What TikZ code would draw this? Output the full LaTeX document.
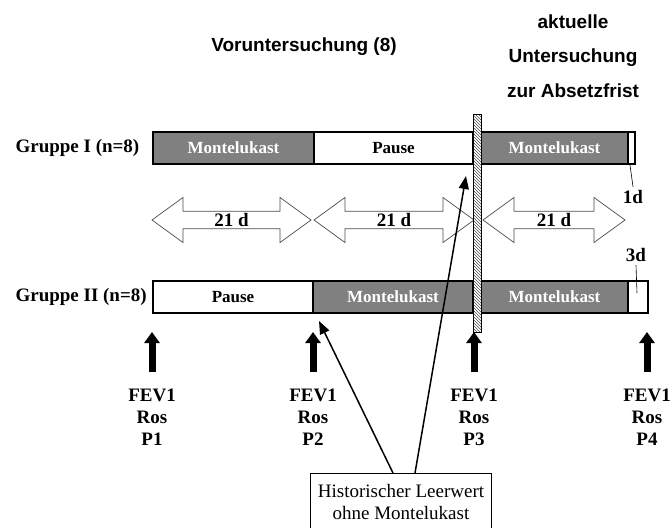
\documentclass[tikz,border=0pt]{standalone}
\usepackage{fontspec}
\setmainfont{Liberation Serif}
\newfontfamily\headfont{Liberation Sans}
\usetikzlibrary{shapes.arrows,arrows.meta,patterns}
\definecolor{barfill}{RGB}{128,128,128}
\tikzset{
  seg/.style={draw, line width=1.2pt, minimum height=32pt, inner sep=0pt,
    font=\bfseries\fontsize{17}{17}\selectfont},
  drug/.style={seg, fill=barfill, text=white},
  pause/.style={seg, fill=white},
  period/.style={double arrow, draw=black!70, line width=0.7pt, fill=white,
    minimum width=45pt, double arrow head extend=11pt, double arrow tip angle=72,
    inner sep=0pt, font=\bfseries\fontsize{19}{19}\selectfont},
  group/.style={anchor=west, font=\bfseries\fontsize{19}{19}\selectfont},
  head/.style={font=\headfont\bfseries\fontsize{19}{34.5}\selectfont, align=center},
  meas/.style={align=center, font=\bfseries\fontsize{19}{22}\selectfont},
  up/.style={line width=7pt, -{Triangle[length=11pt,width=15pt]}},
  hint/.style={line width=1.5pt, -{Triangle[length=13pt,width=10pt]}},
  lead/.style={line width=0.6pt},
}
\begin{document}
\begin{tikzpicture}[x=1pt,y=-1pt]
  \useasboundingbox (0,0) rectangle (671,527);
  \node[head] (vor) at (304,47) {Voruntersuchung (8)};
  \node[head] (akt) at (573,56) {aktuelle\\Untersuchung\\zur Absetzfrist};

  \node[group] (g1) at (12,148) {Gruppe I (n=8)};
  \node[group] (g2) at (12,297) {Gruppe II (n=8)};

  \node[drug, minimum width=161pt] (a1) at (233.5,148) {Montelukast};
  \node[pause, minimum width=159pt] (a2) at (393.5,148) {Pause};
  \node[drug, minimum width=147pt] (a3) at (554.5,148) {Montelukast};
  \node[pause, minimum width=7pt] (a4) at (631.5,148) {};

  \node[pause, minimum width=160pt] (b1) at (233,297) {Pause};
  \node[drug, minimum width=160pt] (b2) at (393,297) {Montelukast};
  \node[drug, minimum width=147pt] (b3) at (554.5,297) {Montelukast};
  \node[pause, minimum width=20pt] (b4) at (638,297) {};

  \node[period, minimum height=159pt] (d1) at (231.5,220) {21 d};
  \node[period, minimum height=160pt] (d2) at (394,220) {21 d};
  \node[period, minimum height=142pt] (d3) at (554,220) {21 d};

  \node[draw, line width=0.6pt, minimum width=8pt, minimum height=218pt, inner sep=0pt,
    preaction={fill=white}, pattern=north west lines, pattern color=black!70] (cut) at (477,223) {};

  \node[font=\bfseries\fontsize{19}{19}\selectfont] (one) at (633,197) {1d};
  \node[font=\bfseries\fontsize{19}{19}\selectfont] (three) at (636,255) {3d};
  \coordinate (e1) at (630,165);
  \coordinate (e3) at (637,293);
  \draw[lead] (one.north) -- (e1);
  \draw[lead] (three.south) -- (e3);

  \foreach \x/\p in {152/1,313/2,474/3,647/4} {
    \coordinate (s\p) at (\x,372);
    \coordinate (t\p) at (\x,332);
    \draw[up] (s\p) -- (t\p);
    \node[meas] (f\p) at (\x,417) {FEV1\\Ros\\P\p};
  }

  \node[draw, line width=0.8pt, align=center, font=\fontsize{19}{22}\selectfont,
    minimum width=181pt, inner ysep=11pt, anchor=north] (hist) at (401,473)
    {Historischer Leerwert\\ohne Montelukast};
  \coordinate (h2) at (319,321);
  \coordinate (h3) at (466,176);
  \draw[hint] ([xshift=-8pt]hist.north) -- (h2);
  \draw[hint] ([xshift=14pt]hist.north) -- (h3);
\end{tikzpicture}
\end{document}
